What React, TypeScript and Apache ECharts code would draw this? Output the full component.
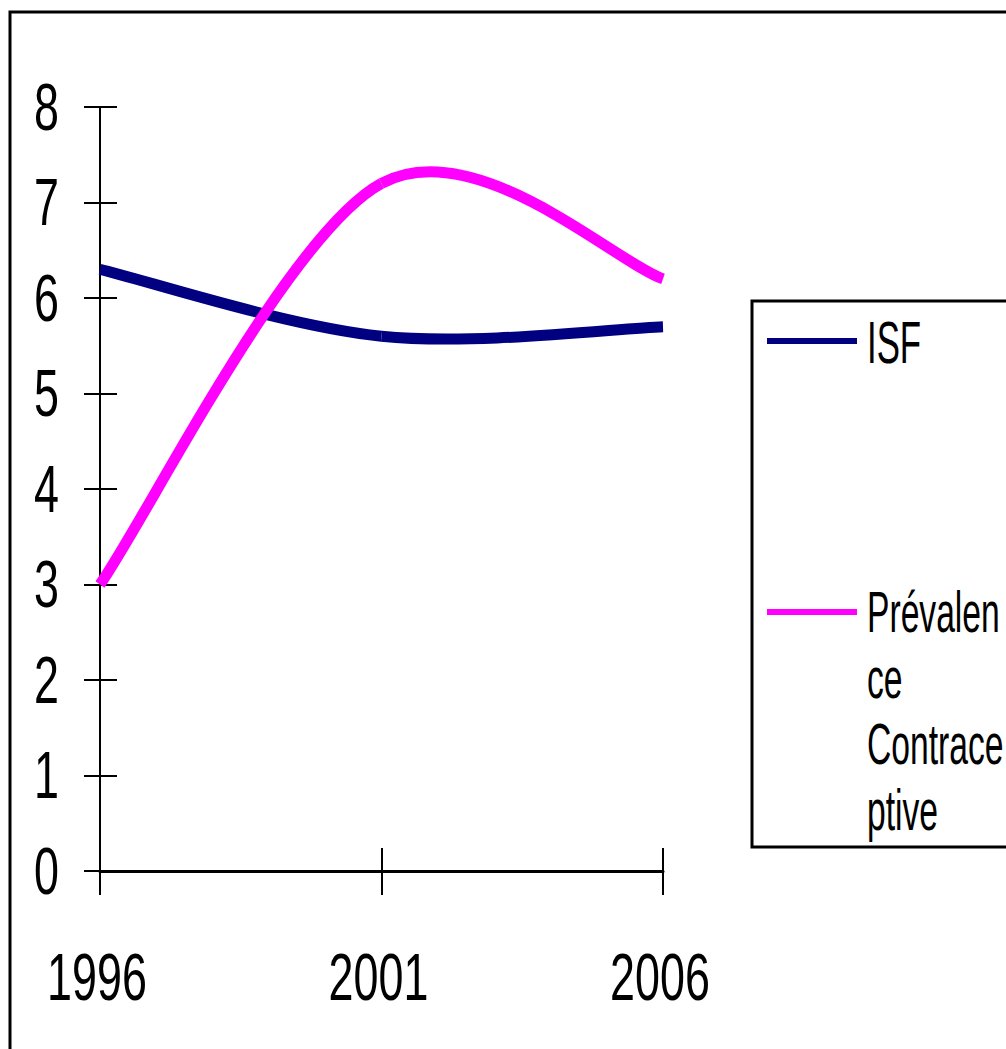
import React, { useEffect, useRef } from "react";
import * as echarts from "echarts";

const years = ["1996", "2001", "2006"];
const isfValues = [6.3, 5.6, 5.7];
const prevalenceValues = [3.0, 7.2, 6.2];
const yTickLabels = ["0", "1", "2", "3", "4", "5", "6", "7", "8"];
const seriesNames = ["ISF", "Prévalence Contraceptive"];
const legendLabels = ["ISF", "Prévalen\nce\nContrace\nptive"];
const seriesColors = ["#000080", "#FF00FF"];

const FONT = "'Liberation Sans', Arial, sans-serif";

// Excel-style smoothed line (Catmull-Rom Bezier) drawn through the axes' scales
function smoothSeries(name: string, values: number[], color: string) {
  const n = values.length;
  return {
    name,
    type: "custom",
    xAxisIndex: 0,
    yAxisIndex: 0,
    data: values.map((v, i) => [i, v]),
    encode: { x: 0, y: 1 },
    renderItem: (params: any, api: any) => {
      const i = params.dataIndex;
      if (i >= n - 1) return { type: "group", children: [] };
      const P = (k: number) => {
        const c = Math.max(0, Math.min(n - 1, k));
        return api.coord([c, values[c]]);
      };
      const p0 = P(i - 1);
      const p1 = P(i);
      const p2 = P(i + 1);
      const p3 = P(i + 2);
      return {
        type: "bezierCurve",
        shape: {
          x1: p1[0],
          y1: p1[1],
          x2: p2[0],
          y2: p2[1],
          cpx1: p1[0] + (p2[0] - p0[0]) / 6,
          cpy1: p1[1] + (p2[1] - p0[1]) / 6,
          cpx2: p2[0] - (p3[0] - p1[0]) / 6,
          cpy2: p2[1] - (p3[1] - p1[1]) / 6,
        },
        style: { stroke: color, lineWidth: 11, fill: null, lineCap: "butt" },
      };
    },
  };
}

export default function App() {
  const ref = useRef<HTMLDivElement>(null);

  useEffect(() => {
    if (!ref.current) return;
    const chart = echarts.init(ref.current, undefined, { renderer: "svg" });

    const tickStyle = { color: "#000", width: 2 };

    chart.setOption({
      animation: false,
      backgroundColor: "#fff",
      grid: { left: 100, right: 343, top: 107, bottom: 178, containLabel: false },
      xAxis: [
        {
          type: "category",
          data: years,
          boundaryGap: false,
          position: "bottom",
          axisLine: { show: true, lineStyle: { color: "#000", width: 3 } },
          axisTick: { show: true, length: 24, lineStyle: tickStyle },
          axisLabel: { show: false },
          splitLine: { show: false },
        },
        {
          type: "category",
          data: years,
          boundaryGap: false,
          position: "bottom",
          axisLine: { show: false },
          axisTick: { show: true, inside: true, length: 23, lineStyle: tickStyle },
          axisLabel: { show: false },
          splitLine: { show: false },
        },
      ],
      yAxis: [
        {
          type: "value",
          min: 0,
          max: 8,
          interval: 1,
          position: "left",
          axisLine: { show: true, lineStyle: { color: "#000", width: 2 } },
          axisTick: { show: true, length: 16, lineStyle: tickStyle },
          axisLabel: { show: false },
          splitLine: { show: false },
        },
        {
          type: "value",
          min: 0,
          max: 8,
          interval: 1,
          position: "left",
          axisLine: { show: false },
          axisTick: { show: true, inside: true, length: 17, lineStyle: tickStyle },
          axisLabel: { show: false },
          splitLine: { show: false },
        },
      ],
      series: [
        smoothSeries(seriesNames[0], isfValues, seriesColors[0]),
        smoothSeries(seriesNames[1], prevalenceValues, seriesColors[1]),
      ],
    });

    // Tick labels placed through the axes' own scales (condensed like the reference)
    const labelStyle = {
      fontSize: 66,
      fontFamily: FONT,
      fill: "#000",
    };
    const xLabelEls = years.map((y, i) => {
      const px = chart.convertToPixel({ xAxisIndex: 0 }, i) as number;
      return {
        type: "text",
        x: px - 3,
        y: 977,
        scaleX: 0.68,
        style: { ...labelStyle, text: y, align: "center", verticalAlign: "middle" },
        silent: true,
      };
    });
    const yLabelEls = yTickLabels.map((t) => {
      const py = chart.convertToPixel({ yAxisIndex: 0 }, Number(t)) as number;
      return {
        type: "text",
        x: 59,
        y: py,
        scaleX: 0.68,
        style: { ...labelStyle, text: t, align: "right", verticalAlign: "middle" },
        silent: true,
      };
    });

    chart.setOption({
      graphic: [
        {
          type: "rect",
          shape: { x: 10, y: 12, width: 1020, height: 1060 },
          style: { fill: "none", stroke: "#000", lineWidth: 3 },
          silent: true,
        },
        ...xLabelEls,
        ...yLabelEls,
        {
          type: "rect",
          shape: { x: 752, y: 301, width: 400, height: 546 },
          style: { fill: "#fff", stroke: "#000", lineWidth: 3 },
          silent: true,
        },
        {
          type: "line",
          shape: { x1: 767, y1: 341, x2: 857, y2: 341 },
          style: { stroke: seriesColors[0], lineWidth: 6 },
          silent: true,
        },
        {
          type: "text",
          x: 867,
          y: 342,
          scaleX: 0.58,
          style: {
            text: legendLabels[0],
            fontSize: 60,
            fontFamily: FONT,
            fill: "#000",
            verticalAlign: "middle",
            align: "left",
          },
          silent: true,
        },
        {
          type: "line",
          shape: { x1: 767, y1: 612, x2: 857, y2: 612 },
          style: { stroke: seriesColors[1], lineWidth: 6 },
          silent: true,
        },
        {
          type: "text",
          x: 867,
          y: 711,
          scaleX: 0.58,
          style: {
            text: legendLabels[1],
            fontSize: 58,
            lineHeight: 66,
            fontFamily: FONT,
            fill: "#000",
            verticalAlign: "middle",
            align: "left",
          },
          silent: true,
        },
      ],
    });

    return () => chart.dispose();
  }, []);

  return (
    <div
      ref={ref}
      style={{ position: "absolute", left: 0, top: 0, width: 1006, height: 1049 }}
    />
  );
}
